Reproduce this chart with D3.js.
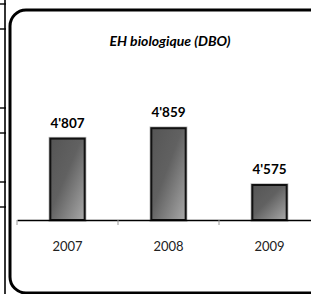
<!DOCTYPE html>
<html lang="fr">
<head>
    <meta charset="UTF-8">
    <title>EH biologique (DBO)</title>
    <script src="https://d3js.org/d3.v7.min.js"></script>
    <style>
        body {
            margin: 0;
            padding: 0;
            background: #fff;
        }
        svg {
            display: block;
            font-family: Lato, "Open Sans", sans-serif;
        }
    </style>
</head>
<body>
    <svg id="chart" width="311" height="294"></svg>

    <script>
        // Data
        const years = ["2007", "2008", "2009"];
        const values = [4807, 4859, 4575];
        const valueLabels = ["4'807", "4'859", "4'575"];
        const title = "EH biologique (DBO)";

        const width = 311;
        const height = 294;

        const svg = d3.select("#chart");

        // gradient for the bars
        const defs = svg.append("defs");
        const grad = defs.append("linearGradient")
            .attr("id", "barGrad")
            .attr("x1", "0").attr("y1", "0")
            .attr("x2", "1").attr("y2", "1");
        grad.append("stop").attr("offset", "0").attr("stop-color", "#555");
        grad.append("stop").attr("offset", "0.45").attr("stop-color", "#616161");
        grad.append("stop").attr("offset", "1").attr("stop-color", "#a9a9a9");

        // bits of the neighbouring table on the left
        svg.append("line")
            .attr("x1", 5).attr("x2", 5)
            .attr("y1", 0).attr("y2", height)
            .attr("stroke", "#000").attr("stroke-width", 1.6);
        [4, 29, 108, 133, 182, 207].forEach(y => {
            svg.append("line")
                .attr("x1", 0).attr("x2", 6)
                .attr("y1", y).attr("y2", y)
                .attr("stroke", "#000").attr("stroke-width", 1.4);
        });

        // chart frame (rounded, runs off to the right and bottom)
        svg.append("rect")
            .attr("x", 10).attr("y", 10)
            .attr("width", 330).attr("height", 283)
            .attr("rx", 16).attr("ry", 16)
            .attr("fill", "#fff")
            .attr("stroke", "#000")
            .attr("stroke-width", 3);

        // title
        svg.append("text")
            .attr("x", 170).attr("y", 46)
            .attr("text-anchor", "middle")
            .attr("font-size", 14)
            .attr("font-weight", "bold")
            .attr("font-style", "italic")
            .attr("fill", "#000")
            .text(title);

        // scales
        const baseY = 220;
        const x = d3.scaleBand()
            .domain(years)
            .range([17, 320]);

        const xBar = d3.scaleBand()
            .domain(years)
            .range([17, 320])
            .paddingInner(0.66)
            .paddingOuter(0.33);

        const y = d3.scaleLinear()
            .domain([4400, 5200])
            .range([baseY, 60]);

        // light halo round the bars
        svg.selectAll(".halo")
            .data(values)
            .join("rect")
            .attr("class", "halo")
            .attr("x", (d, i) => xBar(years[i]))
            .attr("width", xBar.bandwidth())
            .attr("y", d => y(d))
            .attr("height", d => baseY - y(d))
            .attr("fill", "none")
            .attr("stroke", "#bbb")
            .attr("stroke-width", 3.5);

        // bars
        svg.selectAll(".bar")
            .data(values)
            .join("rect")
            .attr("class", "bar")
            .attr("x", (d, i) => xBar(years[i]))
            .attr("width", xBar.bandwidth())
            .attr("y", d => y(d))
            .attr("height", d => baseY - y(d))
            .attr("fill", "url(#barGrad)")
            .attr("stroke", "#111")
            .attr("stroke-width", 2);

        // value labels
        svg.selectAll(".val")
            .data(values)
            .join("text")
            .attr("class", "val")
            .attr("x", (d, i) => xBar(years[i]) + xBar.bandwidth() / 2)
            .attr("y", d => y(d) - 11)
            .attr("text-anchor", "middle")
            .attr("font-size", 13.5)
            .attr("font-weight", "bold")
            .attr("fill", "#000")
            .text((d, i) => valueLabels[i]);

        // x axis
        const axis = svg.append("g")
            .attr("transform", `translate(0,${baseY})`)
            .call(d3.axisBottom(x).tickSize(0).tickPadding(22));
        axis.select(".domain")
            .attr("stroke", "#000")
            .attr("stroke-width", 1.5);
        axis.selectAll("text")
            .attr("font-size", 13)
            .attr("font-family", "Lato, sans-serif")
            .attr("fill", "#222");

        // tick marks between categories
        svg.selectAll(".sep")
            .data(years)
            .join("line")
            .attr("class", "sep")
            .attr("x1", d => x(d)).attr("x2", d => x(d))
            .attr("y1", baseY).attr("y2", baseY + 5)
            .attr("stroke", "#999")
            .attr("stroke-width", 1);
    </script>
</body>
</html>
